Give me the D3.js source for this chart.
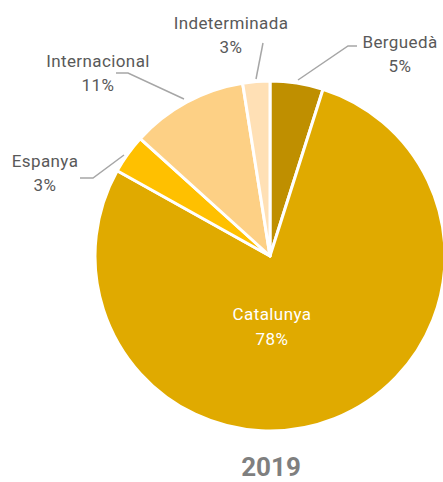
<!DOCTYPE html>
<html>
<head>
<meta charset="utf-8">
<script src="https://cdn.jsdelivr.net/npm/d3@7"></script>
<style>
  body { margin: 0; background: white; }
  text { font-family: Roboto, "Noto Sans", sans-serif; }
</style>
</head>
<body>
<div id="chart"></div>
<script>
// dades 2019
const categories = ["Berguedà", "Catalunya", "Espanya", "Internacional", "Indeterminada"];
const values = [4.9, 78.2, 3.6, 10.8, 2.5];
const labels = ["5%", "78%", "3%", "11%", "3%"];
const colors = ["#BF8F00", "#E0AA00", "#FFC000", "#FDD085", "#FFE0B5"];
const year = "2019";

const width = 443;
const height = 482;
const cx = 270, cy = 256, radius = 175;

const svg = d3.select("#chart")
    .append("svg")
    .attr("width", width)
    .attr("height", height);

const data = categories.map((c, i) => ({ name: c, value: values[i], label: labels[i], color: colors[i] }));

const pie = d3.pie()
    .value(d => d.value)
    .sort(null);

const arc = d3.arc()
    .innerRadius(0)
    .outerRadius(radius);

const arcs = pie(data);

const g = svg.append("g")
    .attr("transform", `translate(${cx},${cy})`);

g.selectAll("path")
    .data(arcs)
    .enter()
    .append("path")
    .attr("d", arc)
    .attr("fill", d => d.data.color)
    .attr("stroke", "white")
    .attr("stroke-width", 3)
    .attr("stroke-linejoin", "round");

// etiquetes externes: [punt a la vora, colze, final] relatius al centre, text
const outside = {
    "Berguedà":      { line: [[28, -176], [78, -210], [87, -210]], tx: 400, ty: 48 },
    "Indeterminada": { line: [[-14, -177], [-7, -213]], tx: 231, ty: 29 },
    "Internacional": { line: [[-86, -157], [-142, -183], [-154, -183]], tx: 98, ty: 67 },
    "Espanya":       { line: [[-146, -101], [-177, -78], [-190, -78]], tx: 45, ty: 167 }
};

const lineGen = d3.line();

arcs.forEach(a => {
    const o = outside[a.data.name];
    if (!o) return;
    g.append("path")
        .attr("d", lineGen(o.line))
        .attr("fill", "none")
        .attr("stroke", "#A6A6A6")
        .attr("stroke-width", 1.5);

    const t = svg.append("text")
        .attr("x", o.tx)
        .attr("y", o.ty)
        .attr("text-anchor", "middle")
        .attr("fill", "#595959")
        .attr("font-size", 17)
        .attr("letter-spacing", 0.4);
    t.append("tspan").attr("x", o.tx).text(a.data.name);
    t.append("tspan").attr("x", o.tx).attr("dy", 24).text(a.data.label);
});

// Catalunya dins del pastís
const cat = arcs[1];
const catLabel = svg.append("text")
    .attr("x", 272)
    .attr("y", 320)
    .attr("text-anchor", "middle")
    .attr("fill", "white")
    .attr("font-size", 17)
    .attr("letter-spacing", 0.4);
catLabel.append("tspan").attr("x", 272).text(cat.data.name);
catLabel.append("tspan").attr("x", 272).attr("dy", 25).text(cat.data.label);

svg.append("text")
    .attr("x", 271)
    .attr("y", 476)
    .attr("text-anchor", "middle")
    .attr("fill", "#7F7F7F")
    .attr("font-size", 26)
    .attr("font-weight", "bold")
    .text(year);
</script>
</body>
</html>
